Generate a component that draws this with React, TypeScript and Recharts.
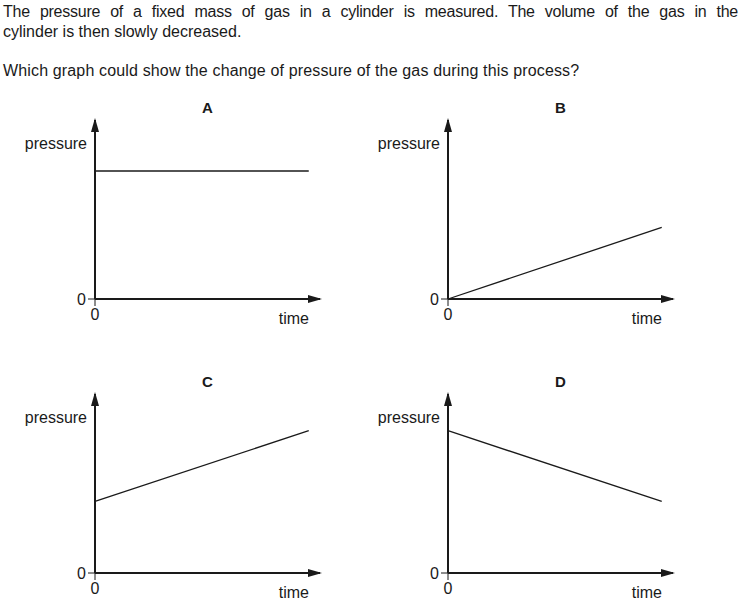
import { LineChart, Line, XAxis, YAxis, Label } from 'recharts';

const TIME_STEPS = [0, 95];
const PRESSURE_A = [71.5, 71.5];
const PRESSURE_B = [0, 40];
const PRESSURE_C = [40, 79.5];
const PRESSURE_D = [79.5, 40];
const ZERO_TICKS = [0];

const INK = '#1a1a1a';
const FONT = '"Liberation Sans", Arial, Helvetica, sans-serif';

function toRows(values: number[]) {
  return TIME_STEPS.map((t, i) => ({ time: t, pressure: values[i] }));
}

function PressureLabel(props: any) {
  const vb = props.viewBox;
  return (
    <text x={vb.x + vb.width - 8} y={vb.y + 29} textAnchor="end" fontSize={16} fill={INK} fontFamily={FONT}>
      pressure
    </text>
  );
}

function TimeLabel(props: any) {
  const vb = props.viewBox;
  return (
    <text x={vb.x + vb.width - 11} y={vb.y + 25} textAnchor="end" fontSize={16} fill={INK} fontFamily={FONT}>
      time
    </text>
  );
}

type PanelProps = {
  title: string;
  values: number[];
  left: number;
  top: number;
  width: number;
  axisWidth: number;
  rightGap: number;
};

function Panel({ title, values, left, top, width, axisWidth, rightGap }: PanelProps) {
  const plotLeft = axisWidth;
  const plotRight = width - rightGap;
  return (
    <div style={{ position: 'absolute', left, top, width, height: 240 }}>
      <div
        style={{
          position: 'absolute',
          left: plotLeft,
          width: plotRight - plotLeft,
          top: 4,
          textAlign: 'center',
          fontWeight: 'bold',
          fontSize: 15,
          fontFamily: FONT,
          color: INK,
        }}
      >
        {title}
      </div>
      <LineChart width={width} height={240} data={toRows(values)} margin={{ top: 25, right: rightGap, left: 0, bottom: 6 }}>
        <XAxis
          dataKey="time"
          type="number"
          domain={[0, 100]}
          ticks={ZERO_TICKS}
          height={30}
          tickSize={7}
          tickMargin={3}
          tick={{ fontSize: 16, fill: INK, fontFamily: FONT }}
          axisLine={{ stroke: INK, strokeWidth: 2, markerEnd: 'url(#arrowHead)' }}
          tickLine={{ stroke: INK, strokeWidth: 1 }}
        >
          <Label content={TimeLabel} />
        </XAxis>
        <YAxis
          type="number"
          domain={[0, 100]}
          ticks={ZERO_TICKS}
          width={axisWidth}
          tickSize={7}
          tickMargin={2}
          tick={{ fontSize: 16, fill: INK, fontFamily: FONT }}
          axisLine={{ stroke: INK, strokeWidth: 2, markerStart: 'url(#arrowHead)' }}
          tickLine={{ stroke: INK, strokeWidth: 1 }}
        >
          <Label content={PressureLabel} />
        </YAxis>
        <Line
          type="linear"
          dataKey="pressure"
          stroke={INK}
          strokeWidth={1.3}
          dot={false}
          activeDot={false}
          isAnimationActive={false}
        />
      </LineChart>
    </div>
  );
}

export default function App() {
  const textStyle = {
    position: 'absolute' as const,
    left: 3,
    width: 735,
    fontSize: 16,
    lineHeight: '19.5px',
    fontFamily: FONT,
    color: INK,
  };
  return (
    <div style={{ position: 'absolute', left: 0, top: 0, width: 741, height: 606, background: '#fff' }}>
      <svg width={0} height={0} style={{ position: 'absolute' }}>
        <defs>
          <marker
            id="arrowHead"
            markerUnits="userSpaceOnUse"
            markerWidth={14}
            markerHeight={10}
            viewBox="0 0 14 10"
            refX={12}
            refY={5}
            orient="auto-start-reverse"
          >
            <path d="M0,1 L14,5 L0,9 z" fill={INK} />
          </marker>
        </defs>
      </svg>
      <div style={{ ...textStyle, top: 2, textAlign: 'justify', textAlignLast: 'justify', letterSpacing: -0.25 }}>
        The pressure of a fixed mass of gas in a cylinder is measured. The volume of the gas in the
      </div>
      <div style={{ ...textStyle, top: 21.5 }}>cylinder is then slowly decreased.</div>
      <div style={{ ...textStyle, top: 61, letterSpacing: 0.15 }}>
        Which graph could show the change of pressure of the gas during this process?
      </div>
      <Panel title="A" values={PRESSURE_A} left={0} top={95} width={340} axisWidth={95} rightGap={20} />
      <Panel title="B" values={PRESSURE_B} left={360} top={95} width={381} axisWidth={88} rightGap={68} />
      <Panel title="C" values={PRESSURE_C} left={0} top={369} width={340} axisWidth={95} rightGap={20} />
      <Panel title="D" values={PRESSURE_D} left={360} top={369} width={381} axisWidth={88} rightGap={68} />
    </div>
  );
}
